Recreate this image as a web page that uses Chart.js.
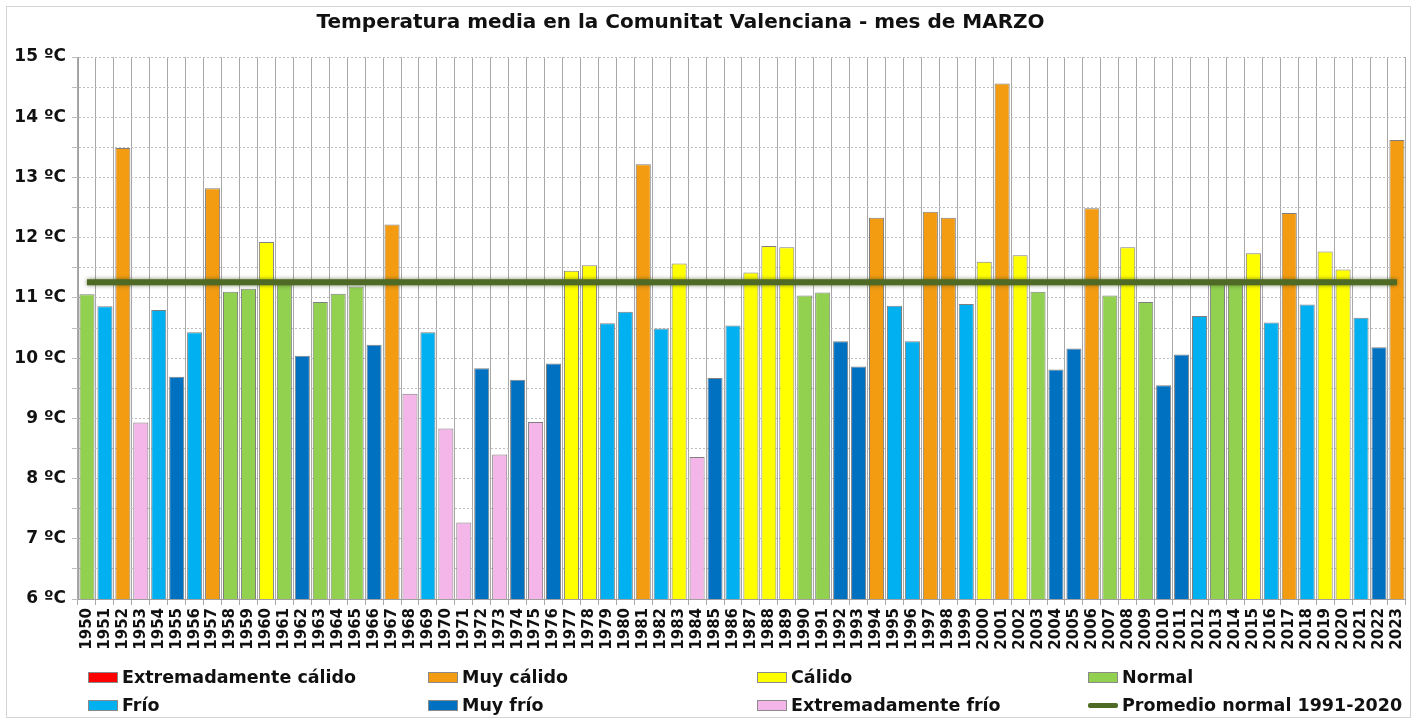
<!DOCTYPE html>
<html lang="es">
<head>
    <meta charset="UTF-8">
    <title>Temperatura media - Marzo</title>
    <script src="https://cdn.jsdelivr.net/npm/chart.js"></script>
    <style>
        body {
            margin: 0;
            width: 1418px;
            height: 722px;
            background: #ffffff;
            overflow: hidden;
            position: relative;
            font-family: "DejaVu Sans", Verdana, sans-serif;
        }
        #marco {
            position: absolute;
            left: 6px;
            top: 6px;
            width: 1403px;
            height: 710px;
            border: 1px solid #d4d4d4;
        }
        #titulo {
            position: absolute;
            left: 0;
            top: 9px;
            width: 1361px;
            text-align: center;
            font-weight: bold;
            font-size: 20px;
            color: #111;
        }
        canvas {
            position: absolute;
            left: 0;
            top: 0;
        }
        #leyenda {
            position: absolute;
            left: 88px;
            top: 663px;
            display: grid;
            grid-template-columns: 340px 329px 331px 330px;
            grid-auto-rows: 28px;
            font-weight: bold;
            font-size: 17.5px;
            color: #111;
        }
        .item {
            display: flex;
            align-items: center;
            white-space: nowrap;
        }
        .caja {
            display: inline-block;
            width: 30px;
            height: 11px;
            margin-right: 4px;
            box-sizing: border-box;
            border: 1px solid #8a8a8a;
        }
        .linea {
            display: inline-block;
            width: 30px;
            height: 5px;
            margin-right: 4px;
            border-radius: 2px;
        }
    </style>
</head>
<body>
    <div id="marco"></div>
    <canvas id="grafica" width="1418" height="722"></canvas>
    <div id="titulo">Temperatura media en la Comunitat Valenciana - mes de MARZO</div>
    <div id="leyenda"></div>

    <script>
        // Datos
        const anios = [
            "1950","1951","1952","1953","1954","1955","1956","1957","1958","1959",
            "1960","1961","1962","1963","1964","1965","1966","1967","1968","1969",
            "1970","1971","1972","1973","1974","1975","1976","1977","1978","1979",
            "1980","1981","1982","1983","1984","1985","1986","1987","1988","1989",
            "1990","1991","1992","1993","1994","1995","1996","1997","1998","1999",
            "2000","2001","2002","2003","2004","2005","2006","2007","2008","2009",
            "2010","2011","2012","2013","2014","2015","2016","2017","2018","2019",
            "2020","2021","2022","2023"
        ];

        const temperaturas = [
            11.06, 10.86, 13.49, 8.93, 10.80, 9.69, 10.43, 12.82, 11.10, 11.15,
            11.93, 11.24, 10.04, 10.93, 11.07, 11.19, 10.22, 12.22, 9.41, 10.43,
            8.83, 7.27, 9.83, 8.40, 9.64, 8.94, 9.91, 11.45, 11.54, 10.58,
            10.77, 13.22, 10.49, 11.57, 8.36, 9.67, 10.54, 11.42, 11.86, 11.84,
            11.04, 11.09, 10.28, 9.86, 12.33, 10.87, 10.28, 12.43, 12.33, 10.90,
            11.60, 14.56, 11.71, 11.10, 9.81, 10.16, 12.49, 11.04, 11.84, 10.93,
            9.55, 10.06, 10.70, 11.24, 11.31, 11.74, 10.59, 12.41, 10.89, 11.77,
            11.47, 10.67, 10.18, 13.62
        ];

        // EC extremadamente cálido, MC muy cálido, C cálido, N normal,
        // F frío, MF muy frío, EF extremadamente frío
        const clases = [
            "N","F","MC","EF","F","MF","F","MC","N","N",
            "C","N","MF","N","N","N","MF","MC","EF","F",
            "EF","EF","MF","EF","MF","EF","MF","C","C","F",
            "F","MC","F","C","EF","MF","F","C","C","C",
            "N","N","MF","MF","MC","F","F","MC","MC","F",
            "C","MC","C","N","MF","MF","MC","N","C","N",
            "MF","MF","F","N","N","C","F","MC","F","C",
            "C","F","MF","MC"
        ];

        const promedio = 11.26;
        const etiquetaPromedio = "Promedio normal 1991-2020";

        const claseNombres = ["EC", "MC", "C", "N", "F", "MF", "EF"];
        const claseTextos = ["Extremadamente cálido", "Muy cálido", "Cálido", "Normal",
                             "Frío", "Muy frío", "Extremadamente frío"];
        const claseColores = ["#ff0000", "#f39c12", "#ffff00", "#92d050",
                              "#00b0f0", "#0070c0", "#f4b6e8"];

        const colorPromedio = "#4e6a24";

        const colorDe = c => claseColores[claseNombres.indexOf(c)];

        // Leyenda en rejilla de 4 columnas (orden igual al original)
        const leyenda = document.getElementById("leyenda");
        claseNombres.forEach((c, i) => {
            const div = document.createElement("div");
            div.className = "item";
            div.innerHTML = `<span class="caja" style="background:${claseColores[i]}"></span>${claseTextos[i]}`;
            leyenda.appendChild(div);
        });
        const itemLinea = document.createElement("div");
        itemLinea.className = "item";
        itemLinea.innerHTML = `<span class="linea" style="background:${colorPromedio}"></span>${etiquetaPromedio}`;
        leyenda.appendChild(itemLinea);

        // Sombra suave para la línea del promedio
        const sombraLinea = {
            id: "sombraLinea",
            beforeDatasetDraw(chart, args) {
                if (args.meta.type === "line") {
                    chart.ctx.save();
                    chart.ctx.shadowColor = "rgba(40, 60, 10, 0.6)";
                    chart.ctx.shadowBlur = 4;
                }
            },
            afterDatasetDraw(chart, args) {
                if (args.meta.type === "line") chart.ctx.restore();
            }
        };

        const ctx = document.getElementById("grafica").getContext("2d");

        new Chart(ctx, {
            type: "bar",
            data: {
                labels: anios,
                datasets: [
                    {
                        type: "line",
                        label: etiquetaPromedio,
                        data: anios.map(() => promedio),
                        borderColor: colorPromedio,
                        borderWidth: 6,
                        pointRadius: 0,
                        fill: false,
                        order: 0
                    },
                    {
                        label: "Temperatura media",
                        data: temperaturas,
                        backgroundColor: clases.map(colorDe),
                        borderColor: "#7f7f7f",
                        borderWidth: 1,
                        barPercentage: 0.84,
                        categoryPercentage: 1,
                        order: 1
                    }
                ]
            },
            options: {
                responsive: false,
                animation: false,
                layout: {
                    padding: { top: 57, right: 11, left: 0, bottom: 0 }
                },
                plugins: {
                    legend: { display: false },
                    title: { display: false },
                    tooltip: { enabled: false }
                },
                scales: {
                    x: {
                        afterFit: s => { s.height = 123; },
                        grid: {
                            offset: true,
                            color: "#a8a8a8",
                            lineWidth: 1,
                            tickLength: 6
                        },
                        border: { color: "#a0a0a0" },
                        ticks: {
                            autoSkip: false,
                            maxRotation: 90,
                            minRotation: 90,
                            padding: 3,
                            color: "#111",
                            font: { family: "DejaVu Sans", weight: "bold", size: 15 }
                        }
                    },
                    y: {
                        min: 6,
                        max: 15,
                        afterFit: s => { s.width = 78; },
                        grid: {
                            color: "#bdbdbd",
                            lineWidth: 1,
                            tickLength: 6
                        },
                        border: { color: "#a0a0a0", dash: [2, 2] },
                        ticks: {
                            stepSize: 0.5,
                            padding: 6,
                            color: "#111",
                            font: { family: "DejaVu Sans", weight: "bold", size: 17 },
                            callback: v => Number.isInteger(v) ? v + " ºC" : ""
                        }
                    }
                }
            },
            plugins: [sombraLinea]
        });
    </script>
</body>
</html>
